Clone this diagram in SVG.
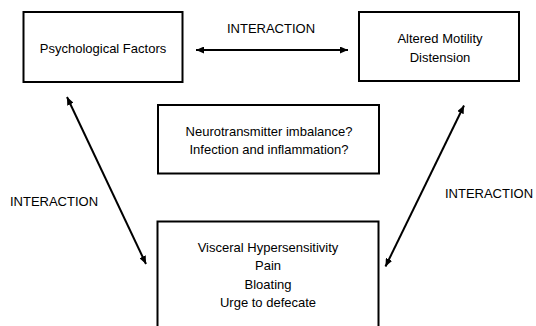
<svg xmlns="http://www.w3.org/2000/svg" width="536" height="326" viewBox="0 0 536 326">
  <style>
    .box { fill: #ffffff; stroke: #000000; stroke-width: 2; }
    .lbl { font-family: "Liberation Sans", Arial, sans-serif; font-size: 13px; fill: #000000; text-anchor: middle; }
    .conn { stroke: #000000; stroke-width: 2; fill: none; marker-start: url(#ah); marker-end: url(#ah); }
  </style>
  <defs>
    <marker id="ah" markerUnits="userSpaceOnUse" markerWidth="9" markerHeight="7" refX="8" refY="3.5" orient="auto-start-reverse">
      <path d="M0,0 L8,3.5 L0,7 z" fill="#000000"/>
    </marker>
  </defs>
  <rect width="536" height="326" fill="#ffffff"/>

  <g id="connectors">
    <line class="conn" x1="196" y1="50" x2="348" y2="50"/>
    <line class="conn" x1="67" y1="97" x2="146" y2="264"/>
    <line class="conn" x1="464" y1="105.5" x2="385.5" y2="266.5"/>
    <text class="lbl" x="271" y="33">INTERACTION</text>
    <text class="lbl" x="54" y="206">INTERACTION</text>
    <text class="lbl" x="489" y="198">INTERACTION</text>
  </g>

  <g id="psychological">
    <rect class="box" x="23.5" y="12" width="159" height="70"/>
    <text class="lbl" x="103" y="53">Psychological Factors</text>
  </g>

  <g id="motility">
    <rect class="box" x="359" y="12" width="160" height="69"/>
    <text class="lbl" x="440" y="43">Altered Motility</text>
    <text class="lbl" x="440" y="61.5">Distension</text>
  </g>

  <g id="mechanisms">
    <rect class="box" x="158" y="105" width="221" height="68.5"/>
    <text class="lbl" x="269" y="135.5">Neurotransmitter imbalance?</text>
    <text class="lbl" x="269" y="154">Infection and inflammation?</text>
  </g>

  <g id="symptoms">
    <rect class="box" x="157.5" y="221.5" width="221" height="130"/>
    <text class="lbl" x="268" y="251.5">Visceral Hypersensitivity</text>
    <text class="lbl" x="268" y="270">Pain</text>
    <text class="lbl" x="268" y="288.5">Bloating</text>
    <text class="lbl" x="268" y="306.5">Urge to defecate</text>
  </g>
</svg>
